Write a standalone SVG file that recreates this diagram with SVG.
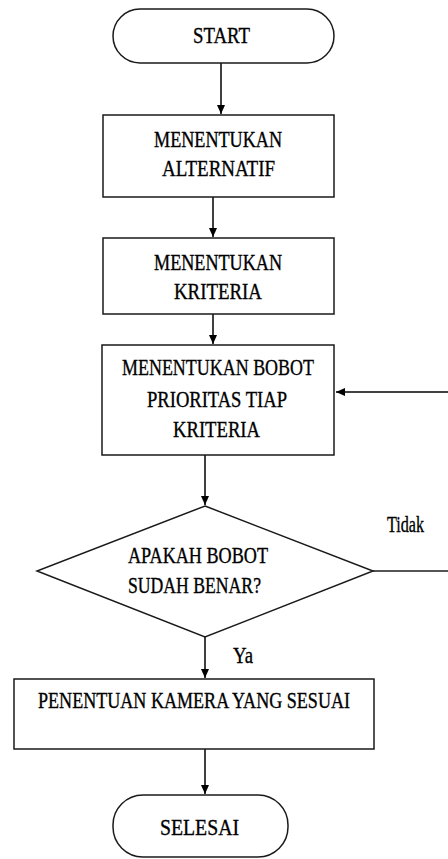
<svg xmlns="http://www.w3.org/2000/svg" width="448" height="859" viewBox="0 0 448 859">
<defs>
<marker id="ah" markerWidth="10" markerHeight="10" refX="9" refY="5" orient="auto" markerUnits="userSpaceOnUse">
<path d="M0,1 L9,5 L0,9 Z" fill="#000"/>
</marker>
<style>
.n{fill:#fff;stroke:#1a1a1a;stroke-width:1.5}
.t{font-family:"Liberation Serif","Times New Roman",serif;font-size:23px;fill:#000;stroke:#000;stroke-width:0.35}
.c{stroke:#000;stroke-width:1.5;fill:none}
</style>
</defs>
<rect width="448" height="859" fill="#fff"/>
<g id="connectors">
<line class="c" x1="221" y1="63" x2="221" y2="114" marker-end="url(#ah)"/>
<line class="c" x1="213" y1="197" x2="213" y2="237" marker-end="url(#ah)"/>
<line class="c" x1="213" y1="314" x2="213" y2="344" marker-end="url(#ah)"/>
<line class="c" x1="205" y1="455" x2="205" y2="505" marker-end="url(#ah)"/>
<line class="c" x1="205" y1="637" x2="205" y2="678" marker-end="url(#ah)"/>
<line class="c" x1="205" y1="749" x2="205" y2="794" marker-end="url(#ah)"/>
<line x1="373" y1="571" x2="448" y2="571" stroke="#555" stroke-width="2.2"/>
<line class="c" x1="448" y1="392" x2="336" y2="392" marker-end="url(#ah)"/>
<text class="t" x="387" y="532" textLength="37" lengthAdjust="spacingAndGlyphs">Tidak</text>
<text class="t" x="233" y="663" textLength="20" lengthAdjust="spacingAndGlyphs">Ya</text>
</g>
<g id="start">
<rect class="n" x="113" y="9" width="221" height="54" rx="27" ry="27"/>
<text class="t" x="193" y="43" textLength="57" lengthAdjust="spacingAndGlyphs">START</text>
</g>
<g id="alternatif">
<rect class="n" x="103" y="115" width="231" height="82"/>
<text class="t" x="154" y="147" textLength="128" lengthAdjust="spacingAndGlyphs">MENENTUKAN</text>
<text class="t" x="162" y="176" textLength="113" lengthAdjust="spacingAndGlyphs">ALTERNATIF</text>
</g>
<g id="kriteria">
<rect class="n" x="103" y="238" width="231" height="76"/>
<text class="t" x="154" y="270" textLength="128" lengthAdjust="spacingAndGlyphs">MENENTUKAN</text>
<text class="t" x="174" y="299" textLength="88" lengthAdjust="spacingAndGlyphs">KRITERIA</text>
</g>
<g id="bobot">
<rect class="n" x="102" y="345" width="232" height="110"/>
<text class="t" x="122" y="375" textLength="192" lengthAdjust="spacingAndGlyphs">MENENTUKAN BOBOT</text>
<text class="t" x="147" y="407" textLength="140" lengthAdjust="spacingAndGlyphs">PRIORITAS TIAP</text>
<text class="t" x="173" y="437" textLength="87" lengthAdjust="spacingAndGlyphs">KRITERIA</text>
</g>
<g id="decision">
<polygon class="n" points="205,506 373,571 205,637 37,571"/>
<text class="t" x="128" y="563" textLength="140" lengthAdjust="spacingAndGlyphs">APAKAH BOBOT</text>
<text class="t" x="128" y="593" textLength="133" lengthAdjust="spacingAndGlyphs">SUDAH BENAR?</text>
</g>
<g id="kamera">
<rect class="n" x="14" y="679" width="360" height="70"/>
<text class="t" x="38" y="708" textLength="312" lengthAdjust="spacingAndGlyphs">PENENTUAN KAMERA YANG SESUAI</text>
</g>
<g id="selesai">
<rect class="n" x="113" y="795" width="175" height="62" rx="30" ry="30"/>
<text class="t" x="160" y="835" textLength="79" lengthAdjust="spacingAndGlyphs">SELESAI</text>
</g>
</svg>
